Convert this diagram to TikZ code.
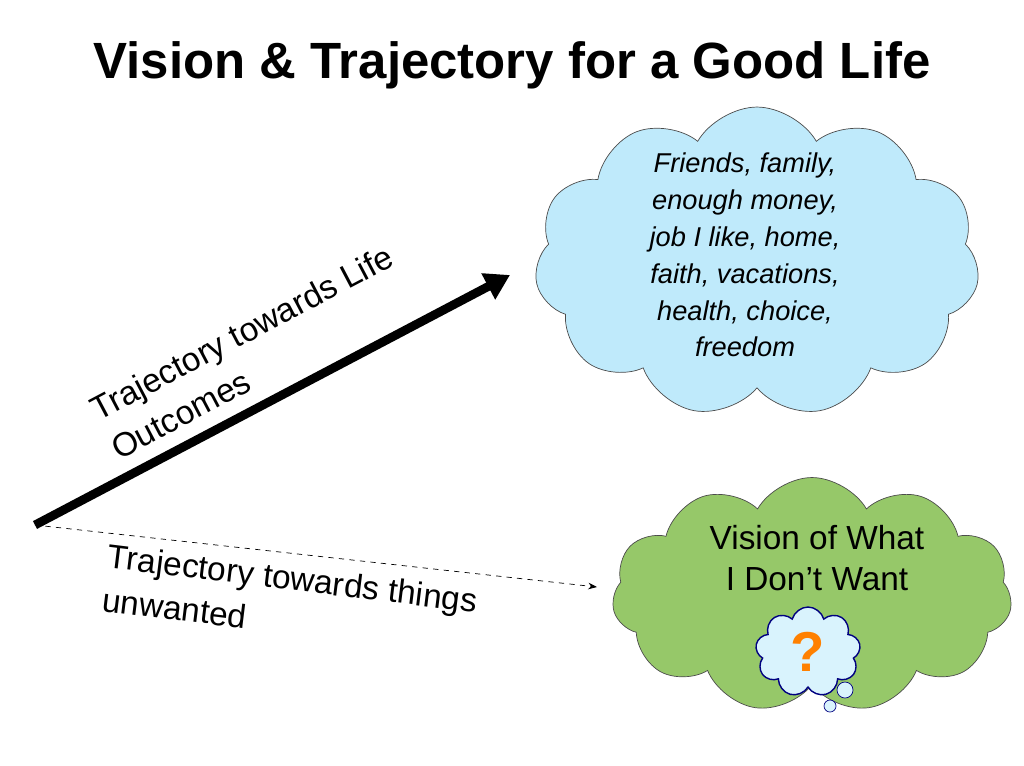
\documentclass[tikz,border=0pt]{standalone}
\usepackage{fontspec}
\setmainfont{Liberation Sans}
\usetikzlibrary{shapes.symbols,arrows.meta}
\definecolor{leaf}{RGB}{150,200,105}
\tikzset{
  puff/.style={cloud, cloud puffs=11, cloud puff arc=120, draw=black!70, thin, align=center},
  blurb/.style={font=\fontsize{19}{25}\selectfont, align=left}
}
\begin{document}
\begin{tikzpicture}[x=0.02cm,y=-0.02cm]
            \useasboundingbox (0,0) rectangle (1024,765);
            \node[font=\bfseries\fontsize{29}{34}\selectfont] (title) at (512,65) {Vision \& Trajectory for a Good Life};

            \node[puff, fill=cyan!25!white, minimum width=8.9cm, minimum height=6.2cm] (good) at (757,262) {};
            \node[font=\itshape\fontsize{15.5}{21}\selectfont, align=center] (goodtxt) at (745,255)
                {Friends, family,\\ enough money,\\ job I like, home,\\ faith, vacations,\\ health, choice,\\ freedom};

            \node[puff, fill=leaf, minimum width=8cm, minimum height=4.7cm] (bad) at (812,595) {};
            \node[font=\fontsize{19}{23}\selectfont, align=center] (badtxt) at (817,558) {Vision of What\\ I Don’t Want};
            \node[cloud, cloud puffs=9, draw=blue!50!black, fill=cyan!15, line width=0.8pt,
                  minimum width=2.1cm, minimum height=1.8cm, font=\bfseries\fontsize{32}{32}\selectfont,
                  text=orange] (quest) at (808,652) {?};
            \draw[blue!50!black, fill=cyan!15] (845,690) circle (8) (830,706) circle (6);

            \coordinate (start) at (35,525);
            \coordinate (life) at (510,275);
            \coordinate (unwanted) at (597,587);
            \draw[line width=5pt, -{Triangle[length=14pt,width=16pt]}] (start) -- (life);
            \draw[dashed, -{Stealth[length=5pt]}] (start) -- (unwanted);

            \node[blurb, rotate=27.8] (lifetxt) at (252,352) {Trajectory towards Life\\ Outcomes};
            \node[blurb, rotate=-7] (unwtxt) at (290,600) {Trajectory towards things\\ unwanted};
        \end{tikzpicture}
\end{document}
